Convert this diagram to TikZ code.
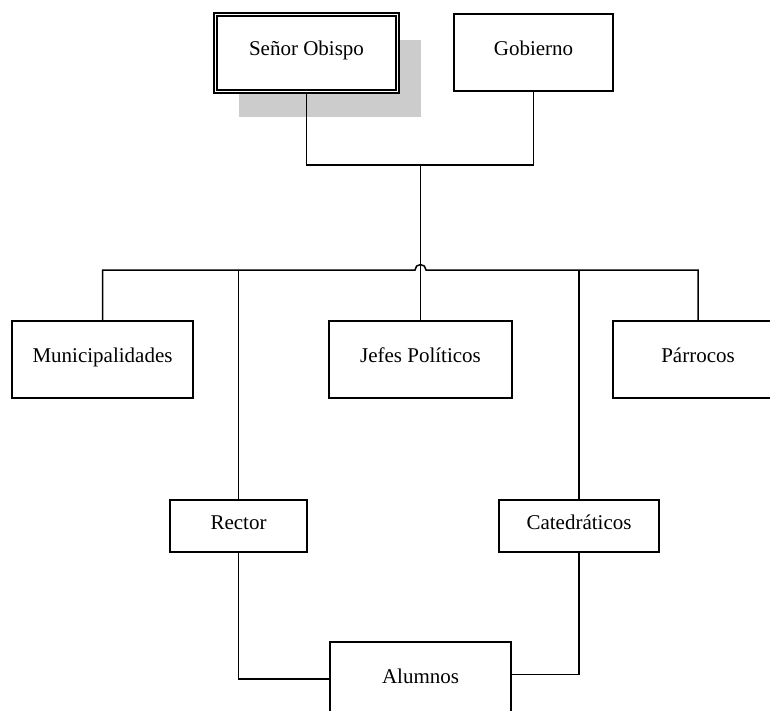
\documentclass[tikz,border=0pt]{standalone}
\usepackage{fontspec}
\setmainfont{Liberation Serif}
\usetikzlibrary{shadows}

\begin{document}
\begin{tikzpicture}[x=1pt, y=-1pt, line width=1.5pt,
        caja/.style={draw, fill=white, inner sep=0pt, font=\fontsize{21}{25}\selectfont,
                     text height=15pt, text depth=9pt,
                     minimum width=#1, minimum height=77pt},
        cajachica/.style={caja=#1, minimum height=52pt}]
        \useasboundingbox (0,0) rectangle (770,711);

        % Nivel superior
        \node[caja=182pt, double, line width=1.3pt, double distance=1.8pt,
              drop shadow={shadow xshift=23pt, shadow yshift=-26pt, fill=black!20, opacity=1}]
              (obispo) at (306.5,53) {Señor Obispo};
        \node[caja=159pt] (gobierno) at (533.5,52.5) {Gobierno};

        % Nivel intermedio
        \node[caja=181pt] (munic) at (102.5,359.5) {Municipalidades};
        \node[caja=183pt] (jefes) at (420.5,359.5) {Jefes Políticos};
        \node[caja=170pt] (parrocos) at (698,359.5) {Párrocos};

        % Nivel inferior
        \node[cajachica=137pt] (rector) at (238.5,526) {Rector};
        \node[cajachica=160pt] (catedra) at (579,526) {Catedráticos};
        \node[caja=181pt] (alumnos) at (420.5,680.5) {Alumnos};

        % Puntos de union
        \coordinate (union) at (420.5,165);
        \coordinate (saltoA) at (415,270);

        % Lineas de conexion
        \draw (obispo.south) |- (union) -| (gobierno.south);
        \draw (union) -- (jefes.north);
        \draw (munic.north) |- (saltoA) arc[start angle=180, end angle=0, radius=5.5pt] -| (parrocos.north);
        \draw (rector.north) -- (rector.north |- saltoA);
        \draw (catedra.north) -- (catedra.north |- saltoA);
        \draw (rector.south) |- ([yshift=1.5pt]alumnos.west);
        \draw (catedra.south) |- ([yshift=6pt]alumnos.east);
    \end{tikzpicture}
\end{document}
